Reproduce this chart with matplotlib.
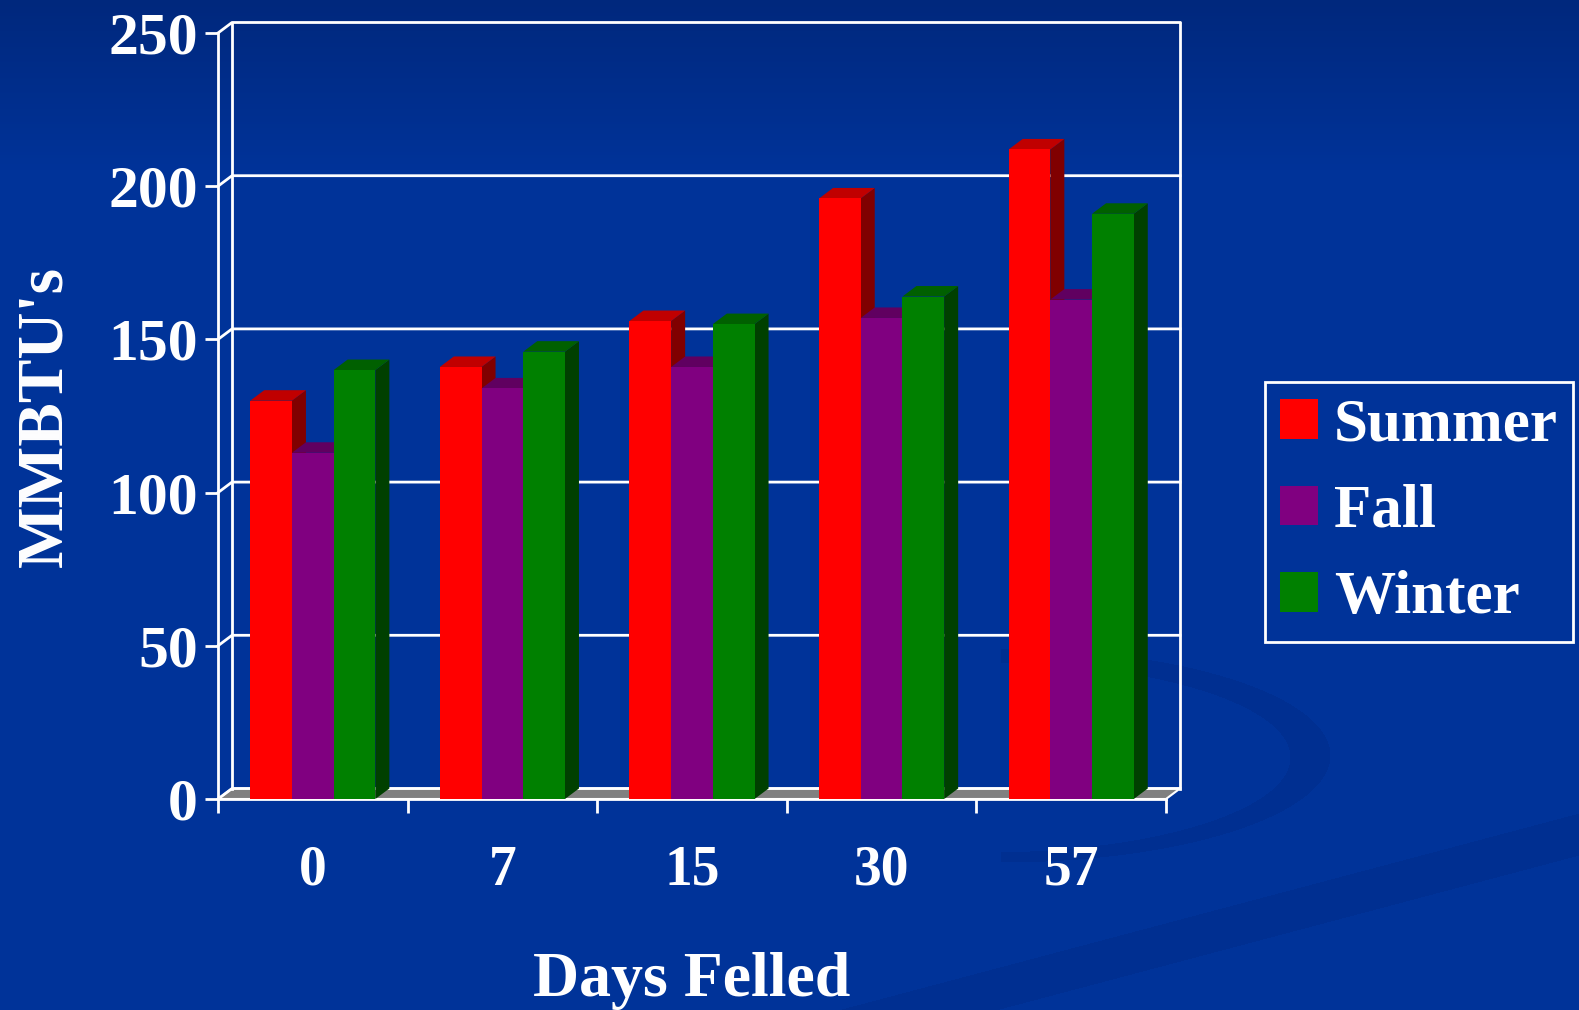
import numpy as np
import matplotlib.pyplot as plt
from matplotlib.patches import Polygon, Rectangle

# MMBTU per cord by days felled, three felling seasons
days = ['0', '7', '15', '30', '57']
seasons = ['Summer', 'Fall', 'Winter']
summer = [130, 141, 156, 196, 212]
fall = [113, 134, 141, 157, 163]
winter = [140, 146, 155, 164, 191]
yticks = [0, 50, 100, 150, 200, 250]

face_colors = ['#ff0000', '#800080', '#008000']
top_colors = ['#c00000', '#600060', '#006000']
side_colors = ['#800000', '#400040', '#004000']

plt.rcParams['font.family'] = ['Liberation Serif', 'DejaVu Serif']
plt.rcParams['font.weight'] = 'bold'

W, H = 1579, 1010
fig = plt.figure(figsize=(W / 100, H / 100), dpi=100)

# slide background: blue with a darker top and a couple of faint swooshes
yy, xx = np.mgrid[0:H, 0:W].astype(float)
base = np.array([0, 51, 153]) / 255
dark = np.array([0, 40, 125]) / 255
swoosh = np.array([0, 47, 145]) / 255
t = np.clip(1 - yy / 170, 0, 1)[..., None]
img = base * (1 - t) + dark * t

y_edge = 927 - (xx - 1150) * (114 / 429)
diag = (yy > y_edge) & (yy < y_edge + 42) & (xx > 800)
outer = ((xx - 1000) / 330) ** 2 + ((yy - 755) / 107) ** 2 < 1
inner = ((xx - 985) / 305) ** 2 + ((yy - 757) / 95) ** 2 < 1
crescent = outer & ~inner & (xx > 1000)
img[diag | crescent] = swoosh

bg = fig.add_axes([0, 0, 1, 1], zorder=-5)
bg.imshow(img, aspect='auto', interpolation='bilinear')
bg.axis('off')

ax = fig.add_axes([218 / W, 1 - 799 / H, (1166 - 218) / W, (799 - 33) / H])
ax.set_facecolor('none')
ax.set_xlim(-0.5, 4.5)
ax.set_ylim(0, 250)

# depth offset of the 3-D box in data units
dx, dy = 14 / 189.6, 10.5 / 3.064
x_lo, x_hi = -0.5, 4.5

floor = Polygon([(x_lo, 0), (x_hi, 0), (x_hi + dx, dy), (x_lo + dx, dy)],
                closed=True, fc='#808080', ec='white', lw=1.5, zorder=1,
                clip_on=False)
ax.add_patch(floor)

line_kw = dict(color='white', lw=2, clip_on=False, zorder=2)
for v in yticks:
    ax.plot([x_lo, x_lo + dx, x_hi + dx], [v, v + dy, v + dy], **line_kw)
ax.plot([x_lo + dx] * 2, [dy, 250 + dy], **line_kw)
ax.plot([x_hi + dx] * 2, [dy, 250 + dy], **line_kw)

# 3-D bars: side, top, then front face, left to right in each group
w = 0.22
series = [summer, fall, winter]
for i in range(len(days)):
    for j, vals in enumerate(series):
        v = vals[i]
        x0 = i + (j - 1) * w - w / 2
        x1 = x0 + w
        ax.add_patch(Polygon([(x1, 0), (x1 + dx, dy), (x1 + dx, v + dy), (x1, v)],
                             closed=True, fc=side_colors[j], ec='none',
                             zorder=3, clip_on=False))
        ax.add_patch(Polygon([(x0, v), (x1, v), (x1 + dx, v + dy), (x0 + dx, v + dy)],
                             closed=True, fc=top_colors[j], ec='none',
                             zorder=3, clip_on=False))
        ax.add_patch(Rectangle((x0, 0), w, v, fc=face_colors[j], ec='none',
                               zorder=3, clip_on=False))

for s in ['top', 'right']:
    ax.spines[s].set_visible(False)
for s in ['left', 'bottom']:
    ax.spines[s].set_color('white')
    ax.spines[s].set_linewidth(2)
    ax.spines[s].set_zorder(2.5)

ax.set_yticks(yticks)
ax.set_yticklabels([str(v) for v in yticks])
ax.tick_params(axis='y', length=9.5, width=2, color='white', labelcolor='white',
               labelsize=43, pad=5)

ax.set_xticks(np.arange(-0.5, 5, 1))
ax.set_xticklabels([])
ax.set_xticks(np.arange(len(days)), minor=True)
ax.set_xticklabels(days, minor=True)
ax.tick_params(axis='x', which='major', length=10, width=2, color='white')
ax.tick_params(axis='x', which='minor', length=0, labelcolor='white',
               labelsize=40, pad=33)

ax.set_ylabel("MMBTU's", fontsize=47, fontweight='bold', color='white',
              labelpad=24)
ax.set_xlabel('Days Felled', fontsize=46, fontweight='bold', color='white',
              labelpad=40)

handles = [Rectangle((0, 0), 1, 1, fc=c, ec='none') for c in face_colors]
leg = fig.legend(handles, seasons, loc='upper left',
                 bbox_to_anchor=(1265 / W, 1 - 382 / H), borderaxespad=0,
                 fontsize=44, frameon=True, fancybox=False, edgecolor='white',
                 facecolor='none', framealpha=1, handlelength=0.62,
                 handleheight=0.62, handletextpad=0.26, labelspacing=0.5,
                 borderpad=0.25, labelcolor='white')
leg.get_frame().set_linewidth(2)

fig.savefig('out.png', dpi=100)
